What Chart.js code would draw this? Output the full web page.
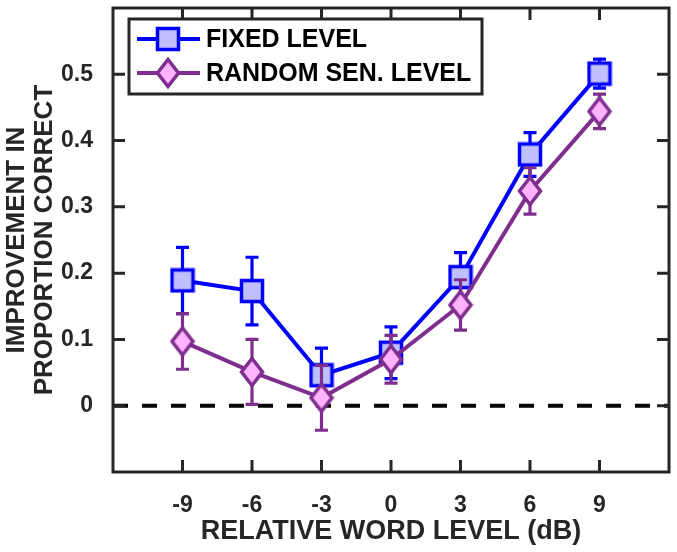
<!DOCTYPE html>
<html>
<head>
<meta charset="utf-8">
<script src="https://cdn.jsdelivr.net/npm/chart.js@4"></script>
<style>
  html, body { margin: 0; padding: 0; background: #fff; }
  #wrap { width: 677px; height: 552px; }
</style>
</head>
<body>
<div id="wrap"><canvas id="chart" width="677" height="552"></canvas></div>
<script>
// data
const wordLevels = [-9, -6, -3, 0, 3, 6, 9];
const fixedLevel = [0.189, 0.173, 0.046, 0.080, 0.194, 0.379, 0.501];
const fixedErr = [0.050, 0.051, 0.041, 0.039, 0.037, 0.033, 0.022];
const randomLevel = [0.097, 0.051, 0.012, 0.070, 0.152, 0.324, 0.444];
const randomErr = [0.042, 0.049, 0.049, 0.036, 0.038, 0.035, 0.026];
const xTickValues = [-9, -6, -3, 0, 3, 6, 9];
const yTickValues = [0, 0.1, 0.2, 0.3, 0.4, 0.5];
const seriesNames = ["FIXED LEVEL", "RANDOM SEN. LEVEL"];

const AXIS_COLOR = "#262626";
const FONT = "'Liberation Sans', Arial, sans-serif";

// marker images (MATLAB style square + tall diamond)
function makeSquare() {
    const c = document.createElement("canvas");
    c.width = 26; c.height = 26;
    const g = c.getContext("2d");
    g.fillStyle = "#c0c0ff";
    g.strokeStyle = "#0000ff";
    g.lineWidth = 3.5;
    g.fillRect(2.5, 2.5, 21, 21);
    g.strokeRect(2.5, 2.5, 21, 21);
    return c;
}
function makeDiamond() {
    const c = document.createElement("canvas");
    c.width = 26; c.height = 32;
    const g = c.getContext("2d");
    g.fillStyle = "#ffb3ff";
    g.strokeStyle = "#7e2f8e";
    g.lineWidth = 3.5;
    g.lineJoin = "miter";
    g.beginPath();
    g.moveTo(13, 2.5); g.lineTo(23.5, 16); g.lineTo(13, 29.5); g.lineTo(2.5, 16);
    g.closePath();
    g.fill(); g.stroke();
    return c;
}
const squareImg = makeSquare();
const diamondImg = makeDiamond();

// error bars, dashed zero line, boxed axes with inward ticks, boxed legend
const decorations = {
    id: "decorations",
    beforeDatasetsDraw(chart) {
        const { ctx, chartArea, scales } = chart;
        const y0 = scales.y.getPixelForValue(0);
        ctx.save();
        ctx.strokeStyle = "#000";
        ctx.lineWidth = 4;
        ctx.setLineDash([15, 14]);
        ctx.beginPath();
        ctx.moveTo(chartArea.left, y0);
        ctx.lineTo(chartArea.right, y0);
        ctx.stroke();
        ctx.restore();
    },
    beforeDatasetDraw(chart, args) {
        const ds = chart.data.datasets[args.index];
        const { ctx, scales } = chart;
        ctx.save();
        ctx.strokeStyle = ds.borderColor;
        ctx.lineWidth = 3.2;
        ds.data.forEach((p, i) => {
            const x = scales.x.getPixelForValue(p.x);
            const top = scales.y.getPixelForValue(p.y + ds.errors[i]);
            const bot = scales.y.getPixelForValue(p.y - ds.errors[i]);
            ctx.beginPath();
            ctx.moveTo(x, top); ctx.lineTo(x, bot);
            ctx.moveTo(x - 6.5, top); ctx.lineTo(x + 6.5, top);
            ctx.moveTo(x - 6.5, bot); ctx.lineTo(x + 6.5, bot);
            ctx.stroke();
        });
        ctx.restore();
    },
    afterDraw(chart) {
        const { ctx, chartArea: a, scales } = chart;
        ctx.save();
        ctx.strokeStyle = AXIS_COLOR;
        ctx.lineWidth = 3;
        ctx.strokeRect(a.left, a.top, a.right - a.left, a.bottom - a.top);
        const tl = 12;
        ctx.beginPath();
        xTickValues.forEach(v => {
            const x = scales.x.getPixelForValue(v);
            ctx.moveTo(x, a.bottom); ctx.lineTo(x, a.bottom - tl);
            ctx.moveTo(x, a.top); ctx.lineTo(x, a.top + tl);
        });
        yTickValues.forEach(v => {
            const y = scales.y.getPixelForValue(v);
            ctx.moveTo(a.left, y); ctx.lineTo(a.left + tl, y);
            ctx.moveTo(a.right, y); ctx.lineTo(a.right - tl, y);
        });
        ctx.stroke();

        // legend
        const lx = 129, ly = 19, lw = 353, lh = 75;
        ctx.fillStyle = "#fff";
        ctx.fillRect(lx, ly, lw, lh);
        ctx.strokeRect(lx, ly, lw, lh);
        const rows = [39, 73];
        chart.data.datasets.forEach((ds, i) => {
            const y = rows[i];
            ctx.strokeStyle = ds.borderColor;
            ctx.lineWidth = 4;
            ctx.beginPath();
            ctx.moveTo(137, y); ctx.lineTo(200, y);
            ctx.stroke();
            const img = ds.pointStyle;
            ctx.drawImage(img, 168 - img.width / 2, y - img.height / 2);
            ctx.fillStyle = "#000";
            ctx.font = "bold 25px " + FONT;
            ctx.textBaseline = "middle";
            ctx.textAlign = "left";
            ctx.fillText(ds.label, 206, y + 1);
        });
        ctx.restore();
    }
};

const toPoints = (ys) => wordLevels.map((x, i) => ({ x: x, y: ys[i] }));

new Chart(document.getElementById("chart"), {
    type: "line",
    data: {
        datasets: [
            {
                label: seriesNames[0],
                data: toPoints(fixedLevel),
                errors: fixedErr,
                borderColor: "#0000ff",
                borderWidth: 4,
                pointStyle: squareImg,
                order: 2
            },
            {
                label: seriesNames[1],
                data: toPoints(randomLevel),
                errors: randomErr,
                borderColor: "#7e2f8e",
                borderWidth: 4,
                pointStyle: diamondImg,
                order: 1
            }
        ]
    },
    options: {
        responsive: false,
        animation: false,
        layout: { padding: { top: 4, right: 4, left: 0, bottom: 0 } },
        plugins: { legend: { display: false }, tooltip: { enabled: false } },
        scales: {
            x: {
                type: "linear",
                min: -12,
                max: 12,
                afterBuildTicks: s => { s.ticks = xTickValues.map(v => ({ value: v })); },
                afterFit: s => {
                    s.height = 80;
                    s.paddingLeft = 0; s.paddingRight = 0;
                },
                grid: { display: false, drawTicks: false },
                border: { display: false },
                ticks: {
                    padding: 20,
                    color: AXIS_COLOR,
                    font: { family: FONT, size: 23, weight: "bold" },
                    maxRotation: 0,
                    callback: v => String(v)
                },
                title: {
                    display: true,
                    text: "RELATIVE WORD LEVEL (dB)",
                    color: AXIS_COLOR,
                    font: { family: FONT, size: 27, weight: "bold", lineHeight: 1.1 },
                    padding: { top: 0, bottom: 6 }
                }
            },
            y: {
                min: -0.1,
                max: 0.6,
                afterBuildTicks: s => { s.ticks = yTickValues.map(v => ({ value: v })); },
                afterFit: s => {
                    s.width = 113;
                    s.paddingTop = 0; s.paddingBottom = 0;
                },
                grid: { display: false, drawTicks: false },
                border: { display: false },
                ticks: {
                    padding: 20,
                    color: AXIS_COLOR,
                    font: { family: FONT, size: 23, weight: "bold" },
                    callback: v => (v === 0 ? "0" : v.toFixed(1))
                },
                title: {
                    display: true,
                    text: ["IMPROVEMENT IN", "PROPORTION CORRECT"],
                    color: AXIS_COLOR,
                    font: { family: FONT, size: 26, weight: "bold", lineHeight: 1.08 },
                    padding: { top: 3, bottom: 0 }
                }
            }
        }
    },
    plugins: [decorations]
});
</script>
</body>
</html>
